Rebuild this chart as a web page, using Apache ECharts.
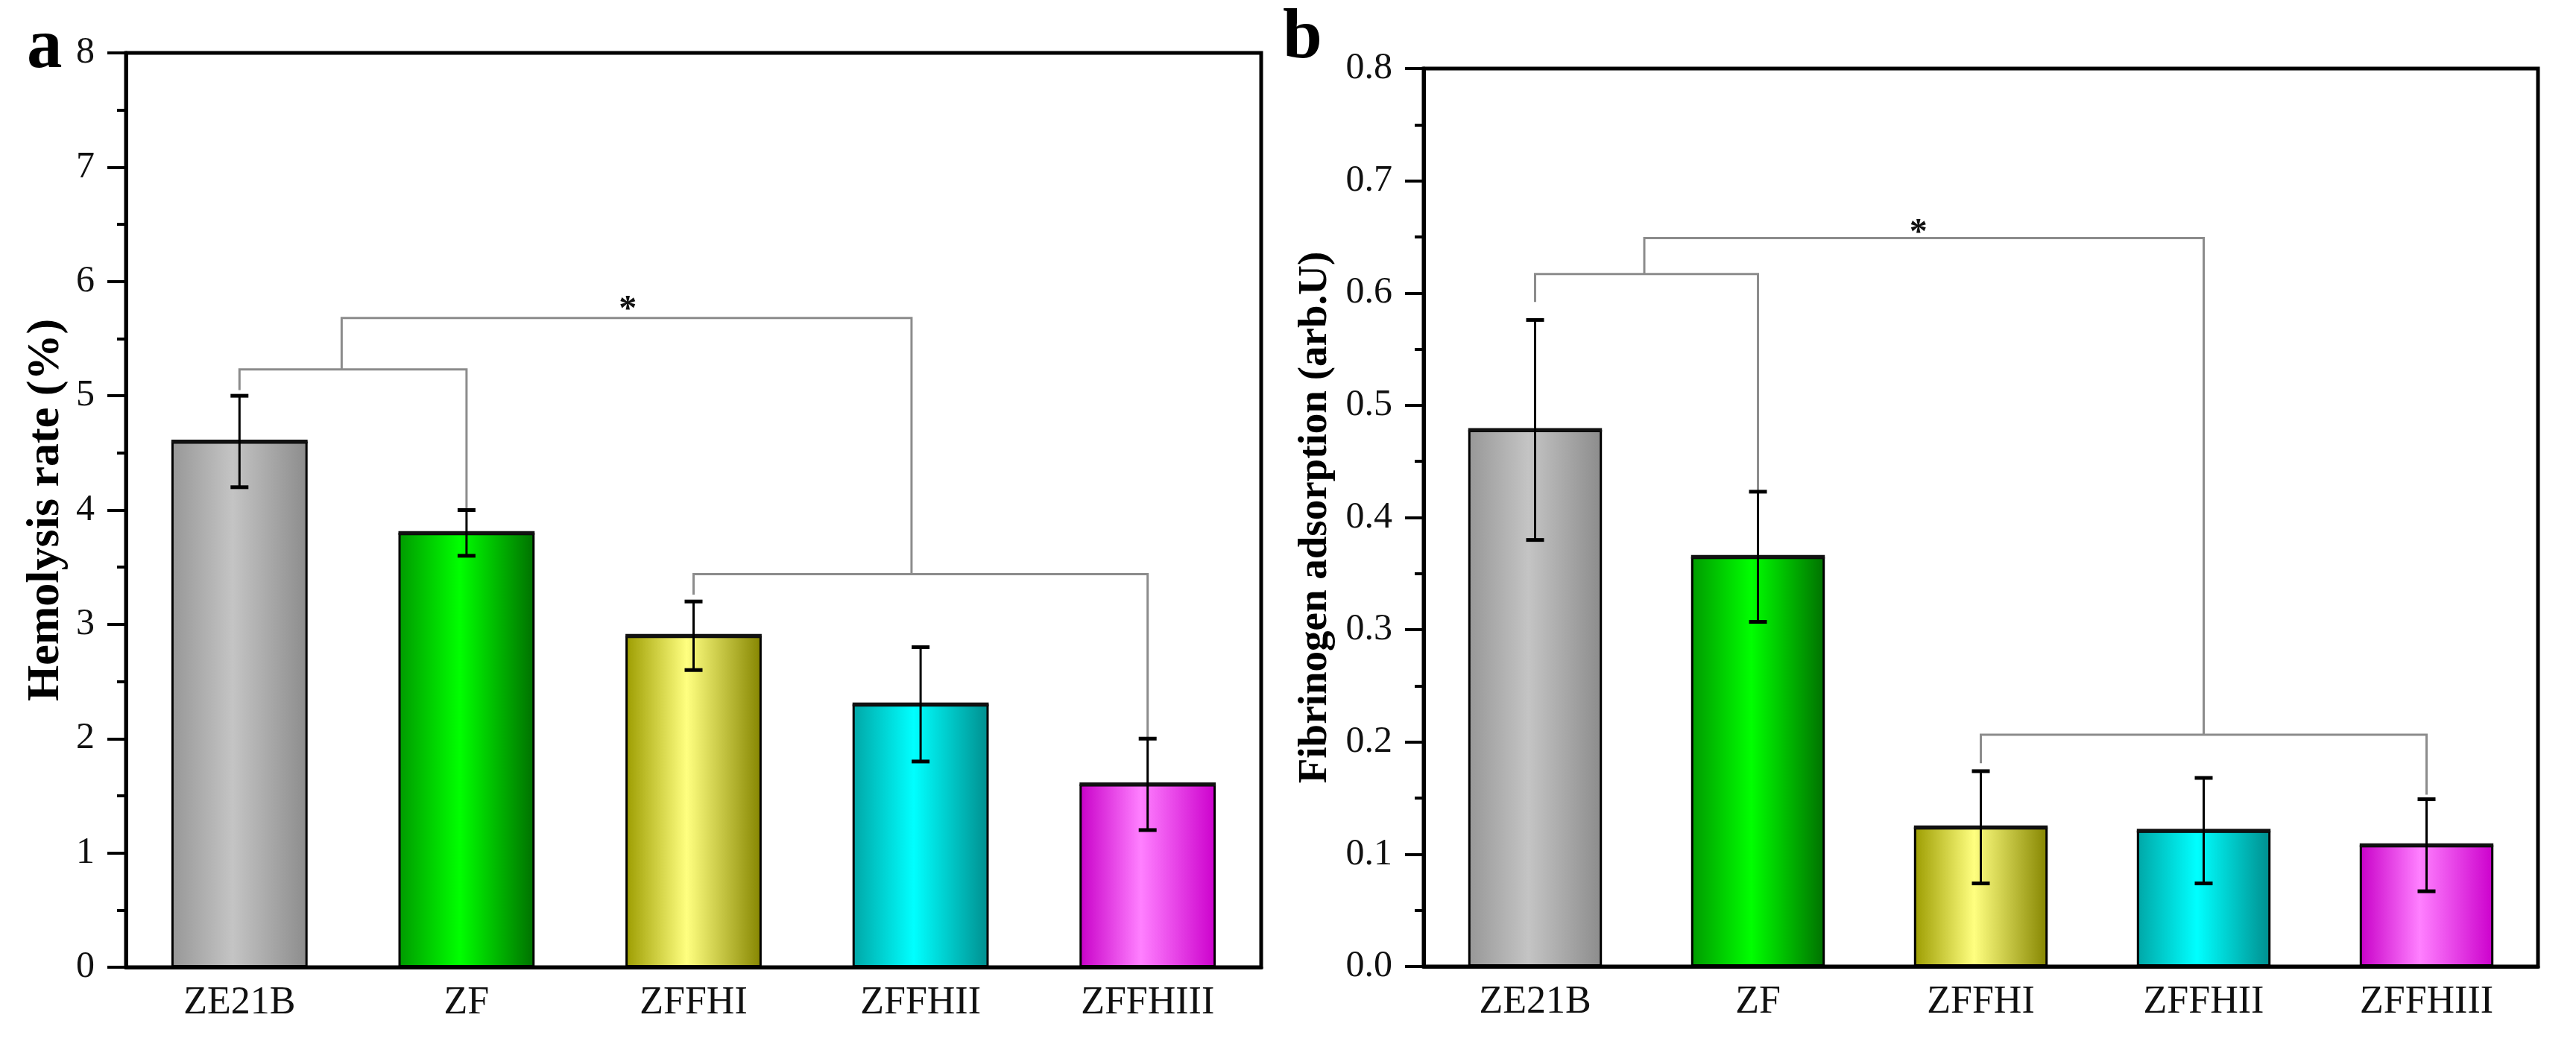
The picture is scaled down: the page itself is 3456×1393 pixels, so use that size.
<!DOCTYPE html>
<html>
<head>
<meta charset="utf-8">
<script src="https://cdn.jsdelivr.net/npm/echarts@6/dist/echarts.min.js"></script>
<style>
  html, body { margin: 0; padding: 0; background: #fff; }
  #chart { width: 3456px; height: 1393px; }
</style>
</head>
<body>
<div id="chart"></div>
<script>
// values
const categories = ['ZE21B', 'ZF', 'ZFFHI', 'ZFFHII', 'ZFFHIII'];

const hemolysis = [4.6, 3.8, 2.9, 2.3, 1.6];
const hemolysisErr = [0.4, 0.2, 0.3, 0.5, 0.4];
const hemolysisTicks = [0, 8, 1]; // min, max, step

const fibrinogen = [0.478, 0.365, 0.124, 0.121, 0.108];
const fibrinogenErr = [0.098, 0.058, 0.05, 0.047, 0.041];
const fibrinogenTicks = [0, 0.8, 0.1];

// significance brackets: [category position, value] points
const hemolysisBrackets = [
  [[0, 5.05], [0, 5.23], [1, 5.23], [1, 4.0]],
  [[2, 3.26], [2, 3.44], [4, 3.44], [4, 2.0]],
  [[0.45, 5.23], [0.45, 5.68], [2.96, 5.68], [2.96, 3.44]]
];
const hemolysisStar = [1.71, 5.75];

const fibrinogenBrackets = [
  [[0, 0.592], [0, 0.617], [1, 0.617], [1, 0.423]],
  [[2, 0.181], [2, 0.2065], [4, 0.2065], [4, 0.153]],
  [[0.49, 0.617], [0.49, 0.649], [3.0, 0.649], [3.0, 0.2065]]
];
const fibrinogenStar = [1.72, 0.653];

// bar gradient colours: edge, highlight, other edge
const barColors = [
  ['#979797', '#c4c4c4', '#8c8c8c'],
  ['#009a00', '#00ff00', '#007000'],
  ['#9c9c00', '#ffff80', '#858500'],
  ['#00a6a6', '#00ffff', '#008e8e'],
  ['#c800c8', '#ff80ff', '#cc00cc']
];

const serif = 'Liberation Serif';

function barGradient(i) {
  const c = barColors[i];
  return new echarts.graphic.LinearGradient(0, 0, 1, 0, [
    { offset: 0, color: c[0] },
    { offset: 0.45, color: c[1] },
    { offset: 1, color: c[2] }
  ]);
}

function buildAxes(g, ticks, name, nameGap, nameSize, fmt) {
  const xCat = {
    type: 'category', gridIndex: g, data: categories,
    axisLine: { onZero: false, lineStyle: { color: '#000', width: 5 } },
    axisTick: { show: false },
    axisLabel: { margin: 22, fontSize: 52, fontFamily: serif, color: '#111' },
    splitLine: { show: false }
  };
  // hidden numeric axis over the same grid for error bars and brackets
  const xVal = { type: 'value', gridIndex: g, min: -0.5, max: 4.5, show: false };
  const y = {
    type: 'value', gridIndex: g,
    min: ticks[0], max: ticks[1], interval: ticks[2],
    name: name, nameLocation: 'middle', nameGap: nameGap,
    nameTextStyle: { fontFamily: serif, fontWeight: 'bold', fontSize: nameSize, color: '#000' },
    axisLine: { show: true, onZero: false, lineStyle: { color: '#000', width: 5 } },
    axisTick: { show: true, length: 25, lineStyle: { color: '#000', width: 4 } },
    minorTick: { show: true, splitNumber: 2, length: 12, lineStyle: { color: '#000', width: 4 } },
    axisLabel: { margin: 42, fontSize: 50, fontFamily: serif, color: '#111', formatter: fmt },
    splitLine: { show: false }
  };
  return { xCat, xVal, y };
}

function buildSeries(catIdx, valIdx, yIdx, values, errs, brackets, star) {
  const bars = {
    type: 'bar', xAxisIndex: catIdx, yAxisIndex: yIdx,
    barWidth: '60%',
    itemStyle: { borderColor: '#000', borderWidth: 3 },
    data: values.map((v, i) => ({ value: v, itemStyle: { color: barGradient(i) } })),
    z: 2
  };
  const errorBars = {
    type: 'custom', xAxisIndex: valIdx, yAxisIndex: yIdx,
    data: values.map((v, i) => [i, v - errs[i], v + errs[i], v]),
    renderItem: function (params, api) {
      const x = api.value(0);
      const lo = api.coord([x, api.value(1)]);
      const hi = api.coord([x, api.value(2)]);
      const top = api.coord([x, api.value(3)]);
      const half = api.size([1, 0])[0] * 0.3;
      const w = 12;
      return {
        type: 'group',
        children: [
          // darker top edge of the bar
          { type: 'line', shape: { x1: top[0] - half, y1: top[1], x2: top[0] + half, y2: top[1] }, style: { stroke: '#111', lineWidth: 5 } },
          { type: 'line', shape: { x1: lo[0], y1: lo[1], x2: hi[0], y2: hi[1] }, style: { stroke: '#000', lineWidth: 3 } },
          { type: 'line', shape: { x1: lo[0] - w, y1: lo[1], x2: lo[0] + w, y2: lo[1] }, style: { stroke: '#000', lineWidth: 5 } },
          { type: 'line', shape: { x1: hi[0] - w, y1: hi[1], x2: hi[0] + w, y2: hi[1] }, style: { stroke: '#000', lineWidth: 5 } }
        ]
      };
    },
    z: 5
  };
  const bracketLines = {
    type: 'custom', xAxisIndex: valIdx, yAxisIndex: yIdx,
    data: brackets.map((b, i) => [i]),
    renderItem: function (params, api) {
      const pts = brackets[params.dataIndex].map(p => api.coord(p));
      return {
        type: 'polyline',
        shape: { points: pts },
        style: { stroke: '#8c8c8c', lineWidth: 3, fill: null }
      };
    },
    z: 4
  };
  const starMark = {
    type: 'custom', xAxisIndex: valIdx, yAxisIndex: yIdx,
    data: [star],
    renderItem: function (params, api) {
      const p = api.coord([api.value(0), api.value(1)]);
      return {
        type: 'text', x: p[0], y: p[1],
        style: {
          text: '*', fill: '#111',
          font: 'bold 48px ' + serif,
          textAlign: 'center', textVerticalAlign: 'middle'
        }
      };
    },
    z: 6
  };
  return [bars, errorBars, bracketLines, starMark];
}

const axA = buildAxes(0, hemolysisTicks, 'Hemolysis rate (%)', 76, 62, v => String(v));
const axB = buildAxes(1, fibrinogenTicks, 'Fibrinogen adsorption (arb.U)', 118, 55, v => v.toFixed(1));

const chart = echarts.init(document.getElementById('chart'));
chart.setOption({
  animation: false,
  backgroundColor: '#fff',
  grid: [
    { left: 169, top: 71, width: 1523, height: 1227, show: true, borderColor: '#000', borderWidth: 5 },
    { left: 1910, top: 92, width: 1495, height: 1205, show: true, borderColor: '#000', borderWidth: 5 }
  ],
  xAxis: [axA.xCat, axA.xVal, axB.xCat, axB.xVal],
  yAxis: [axA.y, axB.y],
  series: [
    ...buildSeries(0, 1, 0, hemolysis, hemolysisErr, hemolysisBrackets, hemolysisStar),
    ...buildSeries(2, 3, 1, fibrinogen, fibrinogenErr, fibrinogenBrackets, fibrinogenStar)
  ],
  graphic: [
    { type: 'text', left: 36, top: 18, style: { text: 'a', font: 'bold 95px ' + serif, fill: '#000' } },
    { type: 'text', left: 1721, top: 5, style: { text: 'b', font: 'bold 95px ' + serif, fill: '#000' } }
  ]
});
</script>
</body>
</html>
